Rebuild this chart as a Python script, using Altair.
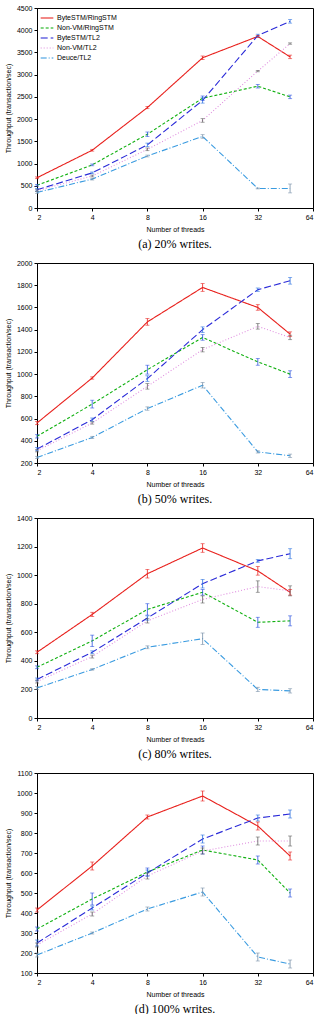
import altair as alt
import pandas as pd

THREADS = [2, 4, 8, 16, 32, 48]
X_TICKS = [2, 4, 8, 16, 32, 64]
SERIES = ["ByteSTM/RingSTM", "Non-VM/RingSTM", "ByteSTM/TL2", "Non-VM/TL2", "Deuce/TL2"]
COLORS = ["#e8201c", "#10b010", "#2a2ad8", "#e090e0", "#3a9be0"]
DASHES = [[1, 0], [3, 2], [7, 3], [1, 2], [6, 2, 1, 2]]
ERR_COLORS = {"ByteSTM/RingSTM": "#e8201c", "Non-VM/RingSTM": "#2a50e0",
              "ByteSTM/TL2": "#2a70e0", "Non-VM/TL2": "#606060", "Deuce/TL2": "#7890a8"}

# (a) 20% writes
A_VALS = [[680, 1300, 2260, 3380, 3860, 3400],
          [510, 970, 1660, 2470, 2740, 2500],
          [410, 790, 1420, 2420, 3880, 4200],
          [390, 720, 1320, 1970, 3080, 3700],
          [350, 650, 1170, 1610, 440, 440]]
A_ERRS = [[20, 20, 25, 40, 20, 40],
          [20, 20, 50, 50, 40, 40],
          [30, 20, 40, 60, 30, 40],
          [20, 20, 30, 40, 15, 15],
          [20, 20, 20, 40, 10, 100]]
# (b) 50% writes
B_VALS = [[560, 965, 1470, 1780, 1600, 1360],
          [440, 730, 1040, 1330, 1110, 1000],
          [325, 590, 960, 1400, 1760, 1840],
          [310, 560, 890, 1220, 1430, 1330],
          [250, 430, 690, 900, 300, 265]]
B_ERRS = [[15, 10, 30, 35, 25, 20],
          [15, 35, 40, 25, 30, 30],
          [15, 15, 25, 25, 15, 30],
          [10, 10, 25, 20, 25, 20],
          [10, 10, 15, 25, 10, 15]]
# (c) 80% writes
C_VALS = [[460, 725, 1010, 1190, 1030, 880],
          [355, 540, 760, 880, 670, 680],
          [270, 460, 700, 940, 1100, 1150],
          [255, 430, 680, 830, 920, 890],
          [210, 340, 495, 555, 200, 190]]
C_ERRS = [[10, 15, 30, 30, 30, 20],
          [10, 40, 40, 20, 35, 35],
          [10, 10, 15, 30, 10, 35],
          [10, 10, 15, 25, 40, 35],
          [10, 5, 10, 40, 15, 15]]
# (d) 100% writes
D_VALS = [[415, 635, 880, 985, 835, 685],
          [320, 470, 605, 715, 665, 500],
          [250, 425, 600, 770, 875, 895],
          [240, 395, 585, 710, 760, 760],
          [190, 300, 420, 505, 180, 145]]
D_ERRS = [[10, 20, 10, 25, 20, 20],
          [10, 30, 20, 20, 20, 20],
          [15, 10, 15, 20, 15, 20],
          [10, 10, 15, 15, 20, 25],
          [10, 5, 10, 20, 20, 20]]

PANELS = [
    (A_VALS, A_ERRS, [0, 4500], list(range(0, 4501, 500)), "(a)  20% writes."),
    (B_VALS, B_ERRS, [200, 2000], list(range(200, 2001, 200)), "(b)  50% writes."),
    (C_VALS, C_ERRS, [0, 1400], list(range(0, 1401, 200)), "(c)  80% writes."),
    (D_VALS, D_ERRS, [100, 1100], list(range(100, 1101, 100)), "(d)  100% writes."),
]

FONT = "Liberation Sans"


def panel(vals, errs, ydom, yticks, caption):
    rows = []
    for s, vs, es in zip(SERIES, vals, errs):
        for t, v, e in zip(THREADS, vs, es):
            rows.append({"series": s, "threads": t, "value": v,
                         "lo": v - e, "hi": v + e, "ecolor": ERR_COLORS[s]})
    df = pd.DataFrame(rows)
    base = alt.Chart(df)
    x = alt.X("threads:Q",
              scale=alt.Scale(type="log", base=2, domain=[2, 64], nice=False),
              axis=alt.Axis(values=X_TICKS, format="d", title="Number of threads",
                            labelOverlap=False))
    yscale = alt.Scale(domain=ydom, nice=False, zero=False)
    yaxis = alt.Axis(values=yticks, format="d", labelOverlap=False,
                     title="Throughput (transaction/sec)")
    y = alt.Y("value:Q", scale=yscale, axis=yaxis)
    leg = alt.Legend(title=None, orient="top-left", offset=3, symbolType="stroke",
                     symbolStrokeWidth=1.3, symbolSize=160, labelFontSize=7,
                     labelFont=FONT, rowPadding=0, padding=0, labelOffset=3)
    lines = base.mark_line(strokeWidth=1.1).encode(
        x=x, y=y,
        color=alt.Color("series:N", scale=alt.Scale(domain=SERIES, range=COLORS), legend=leg),
        strokeDash=alt.StrokeDash("series:N", scale=alt.Scale(domain=SERIES, range=DASHES), legend=leg),
    )
    ylo = alt.Y("lo:Q", scale=yscale, axis=yaxis)
    yhi = alt.Y("hi:Q", scale=yscale, axis=yaxis)
    rules = base.mark_rule(strokeWidth=0.8).encode(
        x=x, y=ylo, y2="hi:Q",
        color=alt.Color("ecolor:N", scale=None))
    cap_lo = base.mark_tick(orient="horizontal", size=4, thickness=0.8).encode(
        x=x, y=ylo, color=alt.Color("ecolor:N", scale=None))
    cap_hi = base.mark_tick(orient="horizontal", size=4, thickness=0.8).encode(
        x=x, y=yhi, color=alt.Color("ecolor:N", scale=None))
    return alt.layer(lines, rules, cap_lo, cap_hi).properties(
        width=276, height=200,
        title=alt.TitleParams(caption, orient="bottom", font="Liberation Serif",
                              fontSize=12, fontWeight="normal", offset=7, color="black"),
    )


chart = alt.vconcat(*[panel(*p) for p in PANELS], spacing=7).properties(
    padding={"left": 3, "top": 3, "right": 5, "bottom": 0}
).configure_axis(
    labelFont=FONT, titleFont=FONT, labelFontSize=7, titleFontSize=7,
    titleFontWeight="normal", grid=False, domainColor="black", tickColor="black",
    labelColor="black", titleColor="black", tickSize=3, labelPadding=2, titlePadding=5,
).configure_view(stroke="black", strokeWidth=1)

chart.save("out.html", embed_options={"renderer": "svg", "actions": False})
